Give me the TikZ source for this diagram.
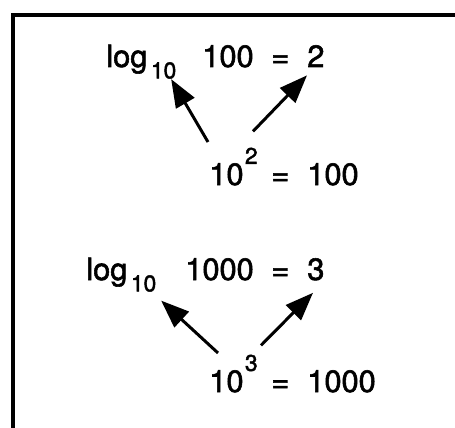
\documentclass[tikz,border=0pt]{standalone}
\usepackage{fontspec}
\setmainfont[FakeBold=1.8]{TeX Gyre Heros}
\usepackage{tikz}
\usetikzlibrary{arrows.meta}
\tikzset{
  eqn/.style   = {inner sep=0pt, anchor=base west,
                  font=\fontsize{17.5}{21}\selectfont},
  ptr/.style   = {line width=1.7pt, -{Triangle[length=0.56cm,width=0.42cm]}},
  frame/.style = {line width=2pt},
}
\newcommand{\idx}[1]{{\fontsize{13}{15}\selectfont #1}}
\newcommand{\lgten}{log\kern2pt\raisebox{-6.5pt}{\idx{10}}}
\newcommand{\tenpow}[1]{10\kern0.8pt\raisebox{12pt}{\idx{#1}}}

\begin{document}
\begin{tikzpicture}
\useasboundingbox (0,0) rectangle (9.1,8.54);
% open frame: left and top sides only
\draw[frame] (0.26,-0.2) -- (0.26,8.24) -- (9.3,8.24);
% First pair: log form above, power form below
\node[eqn] (lg1)  at (2.12, 7.20) {\lgten};
\node[eqn] (arg1) at (4.04, 7.20) {100};
\node[eqn] (eq1)  at (5.42, 7.20) {=};
\node[eqn] (res1) at (6.14, 7.20) {2};
\node[eqn] (pow1) at (4.18, 4.84) {\tenpow{2}};
\node[eqn] (eq2)  at (5.42, 4.84) {=};
\node[eqn] (val1) at (6.14, 4.84) {100};
% Second pair
\node[eqn] (lg2)  at (1.72, 2.94) {\lgten};
\node[eqn] (arg2) at (3.70, 2.94) {1000};
\node[eqn] (eq3)  at (5.42, 2.94) {=};
\node[eqn] (res2) at (6.14, 2.94) {3};
\node[eqn] (pow2) at (4.18, 0.70) {\tenpow{3}};
\node[eqn] (eq4)  at (5.42, 0.70) {=};
\node[eqn] (val2) at (6.14, 0.70) {1000};
% Arrows: base to the log's base, exponent to the result
\draw[ptr] ([shift={(-0.02,0.86)}]pow1.base west) -- ([xshift=-0.11cm]lg1.south east);
\draw[ptr] ([shift={(-0.10,0.32)}]pow1.north east) -- ([yshift=-0.16cm]res1.south west);
\draw[ptr] ([shift={(0.18,0.78)}]pow2.base west) -- ([shift={(0.09,-0.17)}]lg2.south east);
\draw[ptr] ([shift={(0.06,0.18)}]pow2.north east) -- ([shift={(0.12,-0.24)}]res2.south west);
\end{tikzpicture}
\end{document}
